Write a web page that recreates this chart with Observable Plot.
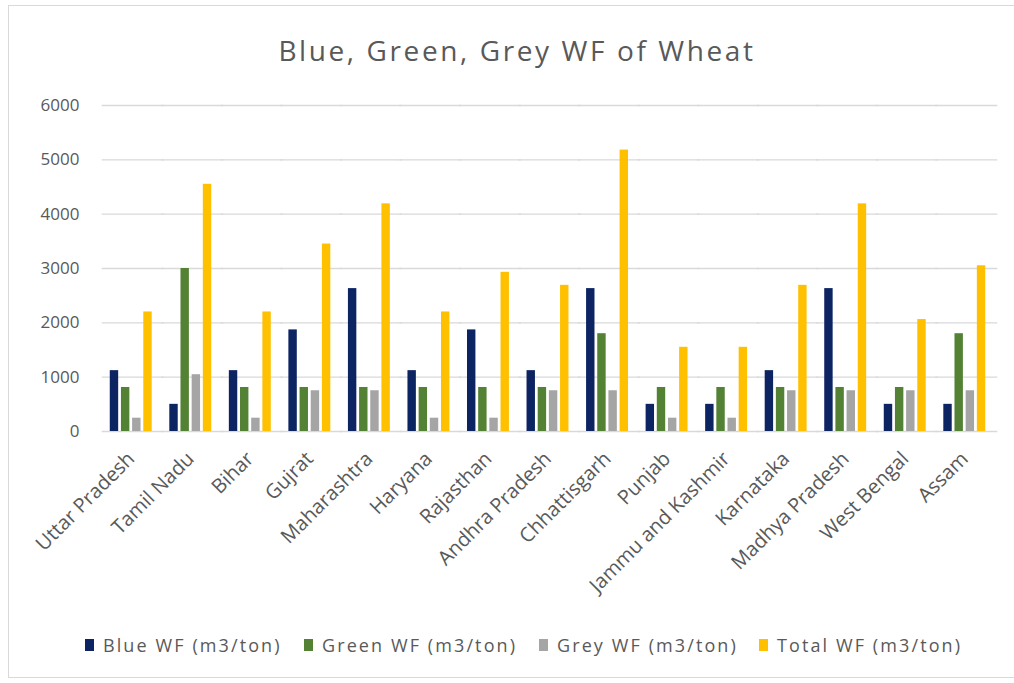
<!DOCTYPE html>
<html>
<head>
<meta charset="utf-8">
<script src="https://cdn.jsdelivr.net/npm/d3@7"></script>
<script src="https://cdn.jsdelivr.net/npm/@observablehq/plot@0.6"></script>
<style>
  html, body { margin: 0; padding: 0; background: #fff; }
  #chart { position: relative; width: 1014px; height: 683px; overflow: hidden; font-family: "Open Sans", sans-serif; color: #595959; }
  #frame { position: absolute; left: 8px; top: 5px; width: 1014px; height: 673px; border: 1px solid #d9d9d9; box-sizing: border-box; }
  #title { position: absolute; left: 0; width: 1034px; top: 36px; text-align: center; font-size: 28px; line-height: 28px; letter-spacing: 2.6px; color: #595959; white-space: nowrap; }
  #plot { position: absolute; left: 0; top: 88px; }
  .key { position: absolute; top: 636px; font-size: 18px; line-height: 18px; letter-spacing: 2.1px; white-space: nowrap; color: #595959; }
  .key i { position: absolute; left: -18px; top: 3px; width: 9px; height: 12px; }
</style>
</head>
<body>
<div id="chart">
  <div id="frame"></div>
  <div id="title">Blue, Green, Grey WF of Wheat</div>
  <div id="plot"></div>
  <div id="legend"></div>
</div>
<script>
// Wheat water footprint by state (m3/ton)
const states = ["Uttar Pradesh", "Tamil Nadu", "Bihar", "Gujrat", "Maharashtra", "Haryana", "Rajasthan",
  "Andhra Pradesh", "Chhattisgarh", "Punjab", "Jammu and Kashmir", "Karnataka", "Madhya Pradesh", "West Bengal", "Assam"];
const seriesNames = ["Blue WF (m3/ton)", "Green WF (m3/ton)", "Grey WF (m3/ton)", "Total WF (m3/ton)"];
const seriesColors = ["#0d2463", "#548235", "#a5a5a5", "#ffc000"];

const blueWF  = [1120, 500, 1120, 1870, 2630, 1120, 1870, 1120, 2630, 500, 500, 1120, 2630, 500, 500];
const greenWF = [810, 3000, 810, 810, 810, 810, 810, 810, 1800, 810, 810, 810, 810, 810, 1800];
const greyWF  = [245, 1045, 245, 750, 750, 245, 245, 750, 750, 245, 245, 750, 750, 750, 750];
const totalWF = [2200, 4550, 2200, 3450, 4190, 2200, 2930, 2690, 5180, 1550, 1550, 2690, 4190, 2060, 3050];

const yTicks = [0, 1000, 2000, 3000, 4000, 5000, 6000];

// long table: one row per state and series
const seriesValues = [blueWF, greenWF, greyWF, totalWF];
const rows = states.flatMap((state, i) =>
  seriesNames.map((series, j) => ({state, series, value: seriesValues[j][i]})));

const chart = Plot.plot({
  width: 1014,
  height: 532,
  marginTop: 17,
  marginBottom: 189,
  marginLeft: 107,
  marginRight: 26,
  style: {fontFamily: "Open Sans, sans-serif", fontSize: "17px", color: "#595959", background: "transparent"},
  fx: {domain: states, padding: 0.203, round: false, label: null},
  x: {domain: seriesNames, padding: 0.247, round: false, axis: null},
  y: {domain: [0, 6000], label: null},
  color: {domain: seriesNames, range: seriesColors},
  marks: [
    // gridlines are widened into the gaps between groups so they read as continuous
    Plot.ruleY(yTicks, {stroke: "#d9d9d9", strokeWidth: 1.4, insetLeft: -5.3, insetRight: -9.3}),
    Plot.axisY({ticks: yTicks, tickFormat: d => String(d), tickSize: 0, tickPadding: 28, label: null, fontSize: 17, letterSpacing: 1}),
    Plot.axisFx({anchor: "bottom", tickRotate: -45, tickSize: 0, tickPadding: 24, label: null, fontSize: 20, letterSpacing: 1}),
    Plot.barY(rows, {fx: "state", x: "series", y: "value", fill: "series"})
  ]
});
document.getElementById("plot").appendChild(chart);

// legend below the chart
const keyLeft = [103, 322, 557, 777];
const legend = document.getElementById("legend");
seriesNames.forEach((name, i) => {
  const item = document.createElement("div");
  item.className = "key";
  item.style.left = keyLeft[i] + "px";
  item.innerHTML = `<i style="background:${seriesColors[i]}"></i>${name}`;
  legend.appendChild(item);
});
</script>
</body>
</html>
